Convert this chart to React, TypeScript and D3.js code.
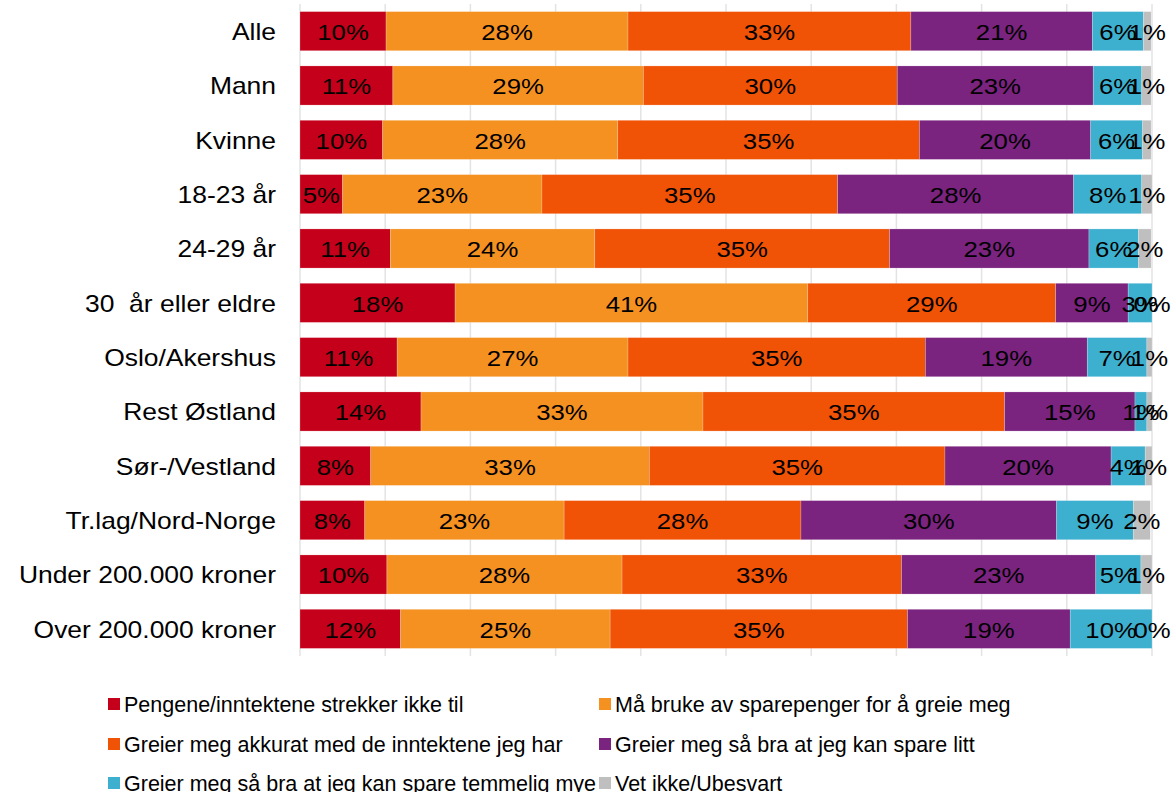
import React from "react";
import * as d3 from "d3";

const categories = [
  "Alle",
  "Mann",
  "Kvinne",
  "18-23 år",
  "24-29 år",
  "30  år eller eldre",
  "Oslo/Akershus",
  "Rest Østland",
  "Sør-/Vestland",
  "Tr.lag/Nord-Norge",
  "Under 200.000 kroner",
  "Over 200.000 kroner",
];

const seriesNames = [
  "Pengene/inntektene strekker ikke til",
  "Må bruke av sparepenger for å greie meg",
  "Greier meg akkurat med de inntektene jeg har",
  "Greier meg så bra at jeg kan spare litt",
  "Greier meg så bra at jeg kan spare temmelig mye",
  "Vet ikke/Ubesvart",
];

const colors = ["#C4001A", "#F59120", "#F05206", "#7A237F", "#3DB0CF", "#BFBFBF"];

const ikkeTil = [10.1, 10.9, 9.7, 5.0, 10.6, 18.2, 11.4, 14.2, 8.3, 7.6, 10.2, 11.8];
const sparepenger = [28.4, 29.4, 27.6, 23.4, 24.0, 41.4, 27.1, 33.1, 32.7, 23.4, 27.6, 24.6];
const akkurat = [33.2, 29.8, 35.4, 34.7, 34.6, 29.1, 34.9, 35.4, 34.7, 27.8, 32.8, 34.9];
const litt = [21.3, 23.0, 20.1, 27.7, 23.4, 8.5, 19.0, 15.3, 19.5, 30.0, 22.8, 19.1];
const temmelig = [6.0, 5.7, 6.1, 8.0, 5.8, 2.8, 7.0, 1.4, 4.0, 9.0, 5.3, 9.6];
const vetIkke = [0.9, 1.1, 1.0, 1.2, 1.5, 0.0, 0.6, 0.6, 0.8, 2.0, 1.3, 0.0];

const series = [ikkeTil, sparepenger, akkurat, litt, temmelig, vetIkke];
const xTicks = [0, 10, 20, 30, 40, 50, 60, 70, 80, 90, 100];

export default function App() {
  const width = 1175;
  const height = 792;
  const x = d3.scaleLinear().domain([0, 100]).range([300, 1152]);
  const y = d3.scaleBand<string>().domain(categories).range([4, 656]).paddingInner(0.28).paddingOuter(0.14);
  const font = "Liberation Sans, Arial, sans-serif";

  const rows = categories.map((c, i) => {
    let acc = 0;
    return series.map((s, k) => {
      const v = s[i];
      const seg = { k, x0: acc, x1: acc + v, v };
      acc += v;
      return seg;
    });
  });

  const legendX = [108, 599];
  const legendY = [704, 744, 783];

  return (
    <svg width={width} height={height} style={{ position: "absolute", left: 0, top: 0, fontFamily: font }}>
      <rect width={width} height={height} fill="#fff" />
      {xTicks.map((t) => (
        <line key={t} x1={x(t)} x2={x(t)} y1={4} y2={656} stroke="#E3E3E3" strokeWidth={1.5} />
      ))}
      {categories.map((c, i) => {
        const cy = (y(c) as number) + y.bandwidth() / 2;
        return (
          <g key={c}>
            <text transform={`translate(276,${cy + 1}) scale(1.15,1)`} textAnchor="end" dominantBaseline="central" fontSize={23} fill="#000" style={{ whiteSpace: "pre" }}>
              {c}
            </text>
            {rows[i].map((s) =>
              s.v > 0 ? (
                <rect key={s.k} x={x(s.x0)} y={y(c)} width={x(s.x1) - x(s.x0)} height={y.bandwidth()} fill={colors[s.k]} stroke="#ffffff" strokeOpacity={0.35} strokeWidth={0.6} />
              ) : null
            )}
            {rows[i].map((s) => (
              <text key={"t" + s.k} transform={`translate(${(x(s.x0) + x(s.x1)) / 2},${cy + 1}) scale(1.17,1)`} textAnchor="middle" dominantBaseline="central" fontSize={22} fill="#000">
                {Math.round(s.v) + "%"}
              </text>
            ))}
          </g>
        );
      })}
      {seriesNames.map((n, k) => {
        const lx = legendX[k % 2];
        const ly = legendY[Math.floor(k / 2)];
        return (
          <g key={n}>
            <rect x={lx} y={ly - 6} width={12} height={12} fill={colors[k]} />
            <text x={lx + 16} y={ly + 1} dominantBaseline="central" fontSize={21.5} fill="#000">
              {n}
            </text>
          </g>
        );
      })}
    </svg>
  );
}
